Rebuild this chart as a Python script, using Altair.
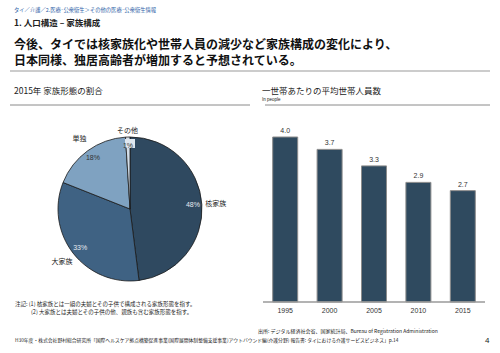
import altair as alt
import pandas as pd

JP = "Noto Sans CJK JP"
LAT = "Liberation Sans"

# ---- data ----
family_types = ["核家族", "大家族", "単独", "その他"]
family_share = [48, 33, 18, 1]
family_colors = ["#2f4960", "#3f6283", "#7fa2c1", "#d3dee9"]

years = ["1995", "2000", "2005", "2010", "2015"]
household_size = [4.0, 3.7, 3.3, 2.9, 2.7]

pie_df = pd.DataFrame({"type": family_types, "share": family_share, "order": list(range(len(family_types)))})
bar_df = pd.DataFrame({"year": years, "size": household_size})
dummy = pd.DataFrame({"k": [0]})


def txt(text, x, y, size, color="#222222", weight="normal", font=JP, align="left", baseline="middle"):
    return alt.Chart(dummy).mark_text(
        text=text, fontSize=size, font=font, color=color, fontWeight=weight,
        align=align, baseline=baseline
    ).encode(x=alt.value(x), y=alt.value(y))


def hline(x1, x2, y, color, width):
    return alt.Chart(dummy).mark_rule(color=color, strokeWidth=width).encode(
        x=alt.value(x1), x2=alt.value(x2), y=alt.value(y))


# ---- header ----
header = [
    txt("タイ／介護／2.医療･公衆衛生＞その他の医療･公衆衛生情報", 14, 10, 5.3, color="#2f5fa8"),
    txt("1. 人口構造 – 家族構成", 14, 23, 8.5, color="#222222", weight="bold"),
    txt("今後、タイでは核家族化や世帯人員の減少など家族構成の変化により、", 14, 45, 12, color="#111111", weight="bold"),
    txt("日本同様、独居高齢者が増加すると予想されている。", 14, 61, 12, color="#111111", weight="bold"),
    hline(10, 490, 71, "#cccccc", 2),
    txt("2015年  家族形態の割合", 14, 91, 8.5),
    hline(10, 250, 105, "#8a8a8a", 1),
    txt("一世帯あたりの平均世帯人員数", 262, 91, 8.5),
    txt("In people", 262, 100, 4.5, font=LAT),
    hline(265, 490, 105, "#8a8a8a", 1),
]

# ---- pie ----
CX, CY = 130, 209
theta_scale = alt.Scale(domain=[0, 100], range=[0, 6.283185307])
pie_base = alt.Chart(pie_df).transform_window(
    end="sum(share)", sort=[alt.SortField("order")]
).transform_calculate(
    start="datum.end - datum.share",
    mid="datum.end - datum.share / 2",
    label="datum.share + '%'",
)

arcs = pie_base.mark_arc(radius=72, stroke="#1a1a1a", strokeWidth=0.8).encode(
    theta=alt.Theta("start:Q", scale=theta_scale),
    theta2="end:Q",
    color=alt.Color("type:N", scale=alt.Scale(domain=family_types, range=family_colors), legend=None),
    x=alt.value(CX), y=alt.value(CY),
)

one_box = alt.Chart(dummy).mark_rect(color="#dfe7ef").encode(
    x=alt.value(125), x2=alt.value(135), y=alt.value(139), y2=alt.value(148))

pct_labels = pie_base.mark_text(radius=63, fontSize=7, font=LAT, baseline="middle").encode(
    theta=alt.Theta("mid:Q", scale=theta_scale),
    text="label:N",
    x=alt.value(CX), y=alt.value(CY),
    color=alt.condition("datum.share < 20", alt.value("#333333"), alt.value("#e4eaf0")),
)

cat_labels = pie_base.transform_filter("datum.share > 5").mark_text(
    radius=86, fontSize=7, font=JP, color="#222222", baseline="middle").encode(
    theta=alt.Theta("mid:Q", scale=theta_scale),
    text="type:N",
    x=alt.value(CX), y=alt.value(CY),
)
cat_labels_small = pie_base.transform_filter("datum.share <= 5").mark_text(
    radius=78, fontSize=7, font=JP, color="#222222", baseline="middle").encode(
    theta=alt.Theta("mid:Q", scale=theta_scale),
    text="type:N",
    x=alt.value(CX), y=alt.value(CY),
)

# ---- bars ----
xs = alt.Scale(domain=years, range=[263, 485], paddingInner=0.437, paddingOuter=0.2185)
ys = alt.Scale(domain=[0, 4], range=[302, 137])

bars = alt.Chart(bar_df).mark_bar(color="#2f4a5f", stroke="#8c8c8c", strokeWidth=1).encode(
    x=alt.X("year:N", scale=xs, axis=None),
    y=alt.Y("size:Q", scale=ys, axis=None),
)
bar_vals = alt.Chart(bar_df).mark_text(fontSize=7, font=LAT, color="#333333", baseline="bottom", dy=-3).encode(
    x=alt.X("year:N", scale=xs, axis=None),
    y=alt.Y("size:Q", scale=ys, axis=None),
    text=alt.Text("size:Q", format=".1f"),
)
year_labels = alt.Chart(bar_df).mark_text(fontSize=7, font=LAT, color="#333333", baseline="middle").encode(
    x=alt.X("year:N", scale=xs, axis=None),
    y=alt.value(311),
    text="year:N",
)
base_rule = hline(263, 485, 302, "#9a9a9a", 1.5)

# ---- notes / footer ----
footer = [
    txt("注記:  (1) 核家族とは一組の夫婦とその子供で構成される家族形態を指す。", 15, 304, 5.5),
    txt("(2) 大家族とは夫婦とその子供の他、親族も含む家族形態を指す。", 31, 312, 5.5),
    txt("出所: デジタル経済社会省、国家統計局、Bureau of Registration Administration", 258, 331, 5),
    txt("H30年度・株式会社野村総合研究所「国際ヘルスケア拠点構築促進事業(国際展開体制整備支援事業)アウトバウンド編(介護分野) 報告書: タイにおける介護サービスビジネス」p.14",
        15, 341, 4.8),
    txt("4", 485, 341, 8, font=LAT),
]

chart = alt.layer(
    *header,
    arcs, one_box, pct_labels, cat_labels, cat_labels_small,
    bars, base_rule, bar_vals, year_labels,
    *footer,
).properties(width=500, height=353, padding=0, autosize="none").configure_view(stroke=None)

chart.save("out.html", embed_options={"renderer": "svg", "actions": False})
